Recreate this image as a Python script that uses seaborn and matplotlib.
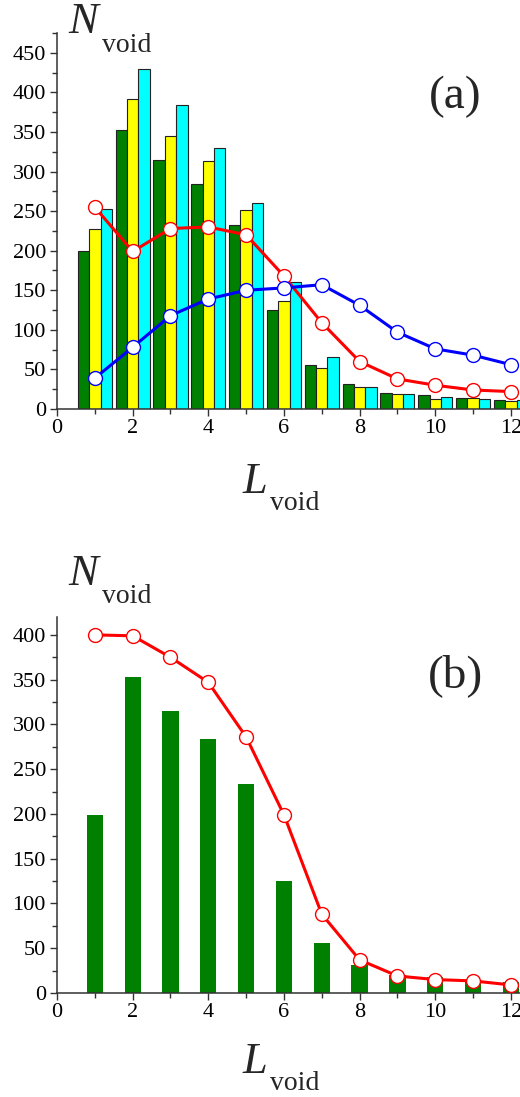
import glob
import numpy as np
import pandas as pd
import matplotlib
matplotlib.use("Agg")
import matplotlib.pyplot as plt
from matplotlib import font_manager
from matplotlib.ticker import MultipleLocator
import seaborn as sns

# values
L = [1, 2, 3, 4, 5, 6, 7, 8, 9, 10, 11, 12]
bars_green = [199, 353, 315, 284, 233, 125, 56, 31, 20, 18, 14, 12]
bars_yellow = [227, 391, 345, 313, 252, 136, 52, 28, 19, 13, 14, 10]
bars_cyan = [253, 429, 384, 330, 260, 161, 66, 28, 19, 15, 13, 11]
line_red_a = [255, 199, 228, 230, 220, 168, 109, 60, 38, 30, 24, 22]
line_blue_a = [39, 78, 118, 139, 150, 153, 157, 131, 97, 76, 68, 56]
line_red_b = [400, 399, 375, 347, 286, 199, 88, 37, 19, 15, 13.5, 9]

# make sure a Times-like serif is registered
for f in glob.glob('/usr/share/fonts/**/*iberation*erif*.ttf', recursive=True):
    font_manager.fontManager.addfont(f)
names = sorted({f.name for f in font_manager.fontManager.ttflist})
serif = 'DejaVu Serif'
for cand in ['Liberation Serif', 'Times New Roman', 'Nimbus Roman', 'FreeSerif']:
    if cand in names:
        serif = cand
        break
print(serif)

sns.set_style("ticks")
plt.rcParams['font.family'] = [serif, 'DejaVu Serif']
plt.rcParams['axes.edgecolor'] = '#333333'
plt.rcParams['xtick.color'] = '#333333'
plt.rcParams['ytick.color'] = '#333333'
plt.rcParams['xtick.labelcolor'] = 'black'
plt.rcParams['ytick.labelcolor'] = 'black'

W, H = 520, 1097
fig = plt.figure(figsize=(W / 100, H / 100), dpi=100)

def px_axes(left, top, right, bottom):
    return fig.add_axes([left / W, 1 - bottom / H, (right - left) / W, (bottom - top) / H])

ax1 = px_axes(57, 33, 520, 409)
ax2 = px_axes(57, 617, 520, 993)

df = pd.DataFrame({
    'L': L * 3,
    'N': bars_green + bars_yellow + bars_cyan,
    'run': ['g'] * 12 + ['y'] * 12 + ['c'] * 12,
})
sns.barplot(data=df, x='L', y='N', hue='run', hue_order=['g', 'y', 'c'],
            palette=['#008000', '#ffff00', '#00ffff'], saturation=1,
            native_scale=True, width=0.9, errorbar=None, legend=False,
            edgecolor='#222222', linewidth=0.8, ax=ax1)
sns.lineplot(x=L, y=line_red_a, color='red', marker='o', markersize=10,
             markerfacecolor='white', markeredgecolor='red', markeredgewidth=1.0,
             linewidth=2.2, ax=ax1, zorder=5)
sns.lineplot(x=L, y=line_blue_a, color='blue', marker='o', markersize=10,
             markerfacecolor='white', markeredgecolor='blue', markeredgewidth=1.0,
             linewidth=2.2, ax=ax1, zorder=5)

sns.barplot(x=L, y=bars_green, native_scale=True, width=0.43, color='#008000',
            saturation=1, errorbar=None, linewidth=0, ax=ax2)
sns.lineplot(x=L, y=line_red_b, color='red', marker='o', markersize=10,
             markerfacecolor='white', markeredgecolor='red', markeredgewidth=1.0,
             linewidth=2.2, ax=ax2, zorder=5)

for ax, ytop in [(ax1, 475), (ax2, 420)]:
    ax.set_xlim(0, 12.24)
    ax.set_ylim(0, ytop)
    ax.set_xlabel('')
    ax.set_ylabel('')
    ax.xaxis.set_major_locator(MultipleLocator(2))
    ax.xaxis.set_minor_locator(MultipleLocator(1))
    ax.yaxis.set_major_locator(MultipleLocator(50))
    ax.yaxis.set_minor_locator(MultipleLocator(25))
    ax.tick_params(which='major', length=5, width=1, labelsize=16)
    ax.tick_params(axis='y', which='major', pad=3)
    ax.tick_params(axis='x', which='major', pad=2)
    ax.tick_params(which='minor', length=3.5, width=1)
    for s in ['left', 'bottom']:
        ax.spines[s].set_linewidth(1.1)
    for t in ax.get_xticklabels() + ax.get_yticklabels():
        t.set_family(serif)
    sns.despine(ax=ax)

def label(x, y_base, main, sub, sub_dx, sub_dy):
    fig.text(x / W, 1 - y_base / H, main, fontsize=32, style='italic',
             family=serif, va='baseline')
    fig.text((x + sub_dx) / W, 1 - (y_base + sub_dy) / H, sub, fontsize=20,
             family=serif, va='baseline')

label(68, 33, 'N', 'void', 34, 19)
label(243, 493, 'L', 'void', 27, 17)
label(68, 585, 'N', 'void', 34, 18)
label(243, 1073, 'L', 'void', 27, 17)

fig.text(455 / W, 1 - 108 / H, '(a)', fontsize=34, ha='center', va='baseline', family=serif)
fig.text(456 / W, 1 - 687 / H, '(b)', fontsize=34, ha='center', va='baseline', family=serif)

fig.savefig('out.png', dpi=100)
